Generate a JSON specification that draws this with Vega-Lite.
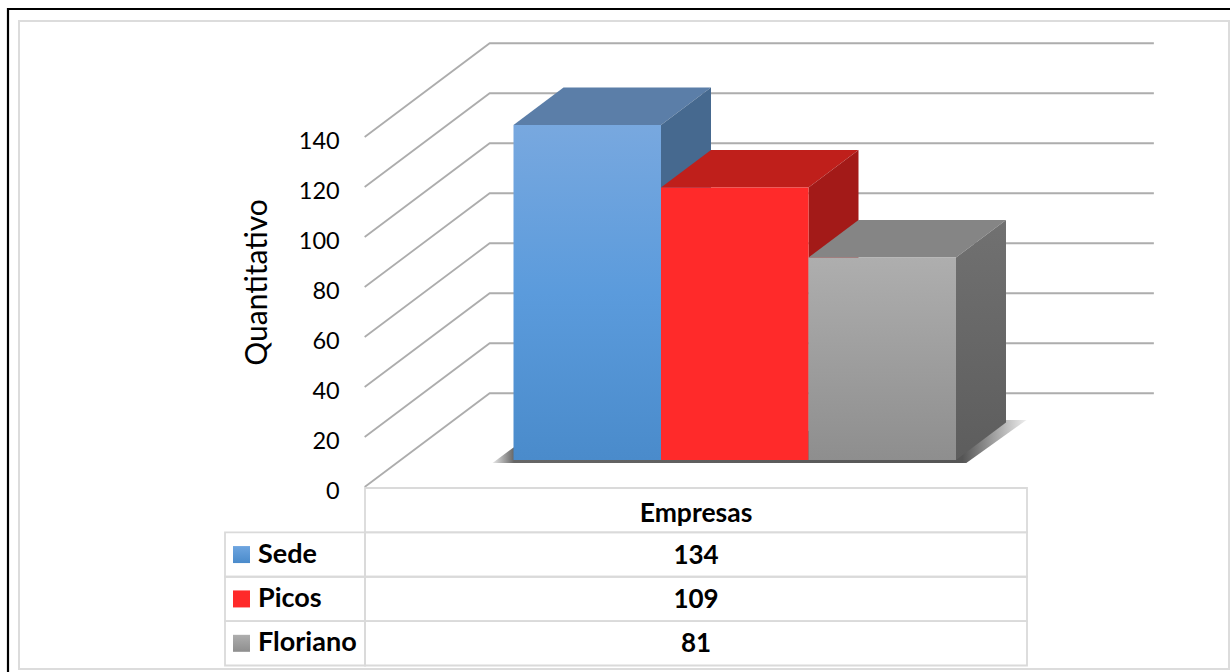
{
"$schema":"https://vega.github.io/schema/vega-lite/v6.json",
"width":1210,"height":648,
"padding":{"left":19,"top":21,"right":1,"bottom":3},
"autosize":{"type":"none"},
"background":"white",
"config":{"view":{"stroke":"#dcdcdc","strokeWidth":2},"text":{"font":"Lato"},"axis":{"titleFont":"Lato"}},
"datasets":{
"geom":[
{"face":"grid","height":0,"slot":-0.765,"depth":-0.72,"seq":1},{"face":"grid","height":0,"slot":-0.765,"depth":1.78,"seq":2},{"face":"grid","height":0,"slot":3.738,"depth":1.78,"seq":3},
{"face":"grid","height":20,"slot":-0.765,"depth":-0.72,"seq":1},{"face":"grid","height":20,"slot":-0.765,"depth":1.78,"seq":2},{"face":"grid","height":20,"slot":3.738,"depth":1.78,"seq":3},
{"face":"grid","height":40,"slot":-0.765,"depth":-0.72,"seq":1},{"face":"grid","height":40,"slot":-0.765,"depth":1.78,"seq":2},{"face":"grid","height":40,"slot":3.738,"depth":1.78,"seq":3},
{"face":"grid","height":60,"slot":-0.765,"depth":-0.72,"seq":1},{"face":"grid","height":60,"slot":-0.765,"depth":1.78,"seq":2},{"face":"grid","height":60,"slot":3.738,"depth":1.78,"seq":3},
{"face":"grid","height":80,"slot":-0.765,"depth":-0.72,"seq":1},{"face":"grid","height":80,"slot":-0.765,"depth":1.78,"seq":2},{"face":"grid","height":80,"slot":3.738,"depth":1.78,"seq":3},
{"face":"grid","height":100,"slot":-0.765,"depth":-0.72,"seq":1},{"face":"grid","height":100,"slot":-0.765,"depth":1.78,"seq":2},{"face":"grid","height":100,"slot":3.738,"depth":1.78,"seq":3},
{"face":"grid","height":120,"slot":-0.765,"depth":-0.72,"seq":1},{"face":"grid","height":120,"slot":-0.765,"depth":1.78,"seq":2},{"face":"grid","height":120,"slot":3.738,"depth":1.78,"seq":3},
{"face":"grid","height":140,"slot":-0.765,"depth":-0.72,"seq":1},{"face":"grid","height":140,"slot":-0.765,"depth":1.78,"seq":2},{"face":"grid","height":140,"slot":3.738,"depth":1.78,"seq":3},
{"face":"shadow","slot":0,"height":5,"depth":0,"seq":1},{"face":"shadow","slot":-0.142,"height":-1.2,"depth":0,"seq":2},{"face":"shadow","slot":3.07,"height":-1.2,"depth":0,"seq":3},{"face":"shadow","slot":3.478,"height":16,"depth":0,"seq":4},{"face":"shadow","slot":3.3,"height":16,"depth":0,"seq":5},
{"serie":"Sede","face":"front","slot":0,"height":134,"depth":0,"seq":1},{"serie":"Sede","face":"front","slot":1,"height":134,"depth":0,"seq":2},{"serie":"Sede","face":"front","slot":1,"height":0,"depth":0,"seq":3},{"serie":"Sede","face":"front","slot":0,"height":0,"depth":0,"seq":4},
{"serie":"Sede","face":"top","slot":0,"height":134,"depth":0,"seq":1},{"serie":"Sede","face":"top","slot":1,"height":134,"depth":0,"seq":2},{"serie":"Sede","face":"top","slot":1,"height":134,"depth":1,"seq":3},{"serie":"Sede","face":"top","slot":0,"height":134,"depth":1,"seq":4},
{"serie":"Sede","face":"side","slot":1,"height":134,"depth":0,"seq":1},{"serie":"Sede","face":"side","slot":1,"height":134,"depth":1,"seq":2},{"serie":"Sede","face":"side","slot":1,"height":0,"depth":1,"seq":3},{"serie":"Sede","face":"side","slot":1,"height":0,"depth":0,"seq":4},
{"serie":"Picos","face":"front","slot":1,"height":109,"depth":0,"seq":1},{"serie":"Picos","face":"front","slot":2,"height":109,"depth":0,"seq":2},{"serie":"Picos","face":"front","slot":2,"height":0,"depth":0,"seq":3},{"serie":"Picos","face":"front","slot":1,"height":0,"depth":0,"seq":4},
{"serie":"Picos","face":"top","slot":1,"height":109,"depth":0,"seq":1},{"serie":"Picos","face":"top","slot":2,"height":109,"depth":0,"seq":2},{"serie":"Picos","face":"top","slot":2,"height":109,"depth":1,"seq":3},{"serie":"Picos","face":"top","slot":1,"height":109,"depth":1,"seq":4},
{"serie":"Picos","face":"side","slot":2,"height":109,"depth":0,"seq":1},{"serie":"Picos","face":"side","slot":2,"height":109,"depth":1,"seq":2},{"serie":"Picos","face":"side","slot":2,"height":0,"depth":1,"seq":3},{"serie":"Picos","face":"side","slot":2,"height":0,"depth":0,"seq":4},
{"serie":"Floriano","face":"front","slot":2,"height":81,"depth":0,"seq":1},{"serie":"Floriano","face":"front","slot":3,"height":81,"depth":0,"seq":2},{"serie":"Floriano","face":"front","slot":3,"height":0,"depth":0,"seq":3},{"serie":"Floriano","face":"front","slot":2,"height":0,"depth":0,"seq":4},
{"serie":"Floriano","face":"top","slot":2,"height":81,"depth":0,"seq":1},{"serie":"Floriano","face":"top","slot":3,"height":81,"depth":0,"seq":2},{"serie":"Floriano","face":"top","slot":3,"height":81,"depth":1,"seq":3},{"serie":"Floriano","face":"top","slot":2,"height":81,"depth":1,"seq":4},
{"serie":"Floriano","face":"side","slot":3,"height":81,"depth":0,"seq":1},{"serie":"Floriano","face":"side","slot":3,"height":81,"depth":1,"seq":2},{"serie":"Floriano","face":"side","slot":3,"height":0,"depth":1,"seq":3},{"serie":"Floriano","face":"side","slot":3,"height":0,"depth":0,"seq":4}
],
"table":[
{"serie":"Empresas","empresas":"Empresas","coluna":"Empresas","legenda":"Série"},
{"serie":"Sede","empresas":"134","coluna":"Empresas","legenda":"Série"},
{"serie":"Picos","empresas":"109","coluna":"Empresas","legenda":"Série"},
{"serie":"Floriano","empresas":"81","coluna":"Empresas","legenda":"Série"}
],
"frame":[{"fx":0,"fy":0,"seq":1},{"fx":0,"fy":1,"seq":2},{"fx":1,"fy":1,"seq":3}]
},
"resolve":{"scale":{"x":"independent","y":"independent"}},
"layer":[
{
"data":{"name":"frame"},
"mark":{"type":"line","stroke":"#000000","strokeWidth":2.2},
"encoding":{
"x":{"field":"fx","type":"quantitative","axis":null,"scale":{"domain":[0,1],"range":[-11,1211],"zero":false,"nice":false}},
"y":{"field":"fy","type":"quantitative","axis":null,"scale":{"domain":[0,1],"range":[651,-12],"zero":false,"nice":false}},
"order":{"field":"seq"}
}
},
{
"data":{"name":"geom"},
"transform":[
{"calculate":"datum.slot+datum.depth*50/147.5","as":"projX"},
{"calculate":"datum.height+datum.depth*15","as":"projY"}
],
"encoding":{
"x":{"field":"projX","type":"quantitative","axis":null,"scale":{"domain":[0,3],"range":[494.5,937],"zero":false,"nice":false}},
"y":{"field":"projY","type":"quantitative","scale":{"domain":[0,140],"range":[439,89],"zero":false,"nice":false},
"axis":{"orient":"left","labels":false,"ticks":false,"domain":false,"grid":false,"title":"Quantitativo","titleX":238,"titleY":261,"titleAngle":270,"titleAlign":"center","titleBaseline":"middle","titleFontSize":30,"titleFontWeight":"normal","titleColor":"#000000"}},
"order":{"field":"seq"}
},
"layer":[
{"transform":[{"filter":"datum.face==='grid'"}],"mark":{"type":"line","stroke":"#adadad","strokeWidth":1.8},"encoding":{"detail":{"field":"height"}}},
{"transform":[{"filter":"datum.face==='grid'&&datum.seq===1"}],"mark":{"type":"text","align":"right","baseline":"middle","dx":-25,"dy":5,"fontSize":23.5,"color":"#000000"},"encoding":{"text":{"field":"height","type":"quantitative"}}},
{"transform":[{"filter":"datum.face==='shadow'"}],"mark":{"type":"line","strokeOpacity":0,"fill":{"gradient":"linear","x1":0,"x2":1,"y1":0,"y2":0,"stops":[{"offset":0,"color":"#e8e8e8"},{"offset":0.04,"color":"#666666"},{"offset":0.88,"color":"#555555"},{"offset":1,"color":"#eeeeee"}]}}},
{"transform":[{"filter":"datum.serie==='Sede'&&datum.face==='top'"}],"mark":{"type":"line","strokeOpacity":0,"fill":"#5b7ea8"}},
{"transform":[{"filter":"datum.serie==='Sede'&&datum.face==='side'"}],"mark":{"type":"line","strokeOpacity":0,"fill":"#46698f"}},
{"transform":[{"filter":"datum.serie==='Sede'&&datum.face==='front'"}],"mark":{"type":"line","strokeOpacity":0,"fill":{"gradient":"linear","x1":0,"x2":0,"y1":0,"y2":1,"stops":[{"offset":0,"color":"#78a8df"},{"offset":0.5,"color":"#5b9bdc"},{"offset":1,"color":"#4a8bcb"}]}}},
{"transform":[{"filter":"datum.serie==='Picos'&&datum.face==='top'"}],"mark":{"type":"line","strokeOpacity":0,"fill":"#bf1f1b"}},
{"transform":[{"filter":"datum.serie==='Picos'&&datum.face==='side'"}],"mark":{"type":"line","strokeOpacity":0,"fill":"#a31a18"}},
{"transform":[{"filter":"datum.serie==='Picos'&&datum.face==='front'"}],"mark":{"type":"line","strokeOpacity":0,"fill":"#ff2a2a"}},
{"transform":[{"filter":"datum.serie==='Floriano'&&datum.face==='top'"}],"mark":{"type":"line","strokeOpacity":0,"fill":"#858585"}},
{"transform":[{"filter":"datum.serie==='Floriano'&&datum.face==='side'"}],"mark":{"type":"line","strokeOpacity":0,"fill":{"gradient":"linear","x1":0,"x2":0,"y1":0,"y2":1,"stops":[{"offset":0,"color":"#717171"},{"offset":1,"color":"#5d5d5d"}]}}},
{"transform":[{"filter":"datum.serie==='Floriano'&&datum.face==='front'"}],"mark":{"type":"line","strokeOpacity":0,"fill":{"gradient":"linear","x1":0,"x2":0,"y1":0,"y2":1,"stops":[{"offset":0,"color":"#aeaeae"},{"offset":1,"color":"#8e8e8e"}]}}}
]
},
{
"data":{"name":"table"},
"encoding":{
"x":{"field":"coluna","type":"nominal","axis":null,"scale":{"type":"band","domain":["Empresas"],"range":[346,1008],"paddingInner":0,"paddingOuter":0}},
"y":{"field":"serie","type":"nominal","axis":null,"scale":{"type":"band","domain":["Empresas","Sede","Picos","Floriano"],"range":[467,644.5],"paddingInner":0,"paddingOuter":0}}
},
"layer":[
{"mark":{"type":"rect","fillOpacity":0,"stroke":"#dadada","strokeWidth":1.8}},
{"transform":[{"filter":"datum.serie!=='Empresas'"}],"mark":{"type":"text","fontSize":26,"fontWeight":"bold","color":"#000000","align":"center","baseline":"middle","dy":1},"encoding":{"text":{"field":"empresas"}}},
{"transform":[{"filter":"datum.serie==='Empresas'"}],"mark":{"type":"text","fontSize":26.5,"fontWeight":"bold","color":"#000000","align":"center","baseline":"middle","dy":4},"encoding":{"text":{"field":"empresas"}}}
]
},
{
"data":{"name":"table"},
"transform":[{"filter":"datum.serie!=='Empresas'"}],
"encoding":{
"x":{"field":"legenda","type":"nominal","axis":null,"scale":{"type":"band","domain":["Série"],"range":[206,346],"paddingInner":0,"paddingOuter":0}},
"y":{"field":"serie","type":"nominal","axis":null,"scale":{"type":"band","domain":["Empresas","Sede","Picos","Floriano"],"range":[467,644.5],"paddingInner":0,"paddingOuter":0}}
},
"layer":[
{"mark":{"type":"rect","fillOpacity":0,"stroke":"#dadada","strokeWidth":1.8}},
{"mark":{"type":"text","fontSize":27,"fontWeight":"bold","color":"#000000","align":"left","baseline":"middle","xOffset":-37,"dy":0},"encoding":{"text":{"field":"serie"}}},
{"transform":[{"filter":"datum.serie==='Sede'"}],"mark":{"type":"point","shape":"square","size":289,"xOffset":-53.5,"filled":true,"opacity":1,"fill":{"gradient":"linear","x1":0,"x2":0,"y1":0,"y2":1,"stops":[{"offset":0,"color":"#6ea5e0"},{"offset":1,"color":"#4a8bcb"}]}}},
{"transform":[{"filter":"datum.serie==='Picos'"}],"mark":{"type":"point","shape":"square","size":289,"xOffset":-53.5,"filled":true,"opacity":1,"fill":"#ff2a2a"}},
{"transform":[{"filter":"datum.serie==='Floriano'"}],"mark":{"type":"point","shape":"square","size":289,"xOffset":-53.5,"filled":true,"opacity":1,"fill":{"gradient":"linear","x1":0,"x2":0,"y1":0,"y2":1,"stops":[{"offset":0,"color":"#aeaeae"},{"offset":1,"color":"#8e8e8e"}]}}}
]
}
]
}
